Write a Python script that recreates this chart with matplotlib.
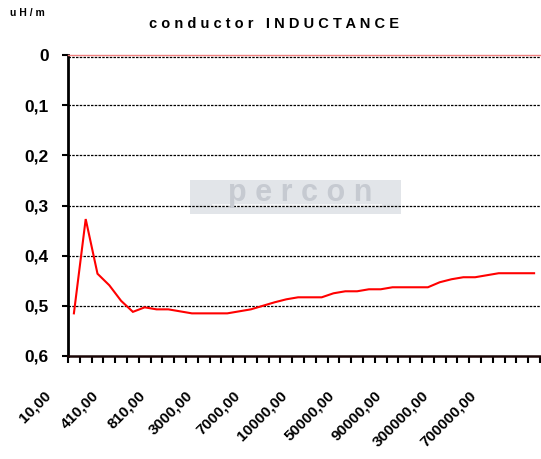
import matplotlib
matplotlib.use('Agg')
import matplotlib.pyplot as plt
from matplotlib.transforms import ScaledTranslation
from matplotlib.patches import Rectangle

plt.rcParams['font.family'] = ['Liberation Sans', 'DejaVu Sans']

# ---- data ----
values = [0.515, 0.327, 0.436, 0.459, 0.490, 0.512, 0.503, 0.507, 0.507, 0.511,
          0.515, 0.515, 0.515, 0.515, 0.511, 0.507, 0.500, 0.493, 0.487, 0.483,
          0.483, 0.483, 0.475, 0.471, 0.471, 0.467, 0.467, 0.463, 0.463, 0.463,
          0.463, 0.453, 0.447, 0.443, 0.443, 0.439, 0.435, 0.435, 0.435, 0.435]
shown_labels = ['10,00', '410,00', '810,00', '3000,00', '7000,00', '10000,00',
                '50000,00', '90000,00', '300000,00', '700000,00']
label_every = 4
yticks = [0, 0.1, 0.2, 0.3, 0.4, 0.5, 0.6]
ylabels = ['0', '0,1', '0,2', '0,3', '0,4', '0,5', '0,6']

W, H = 541, 459
fig = plt.figure(figsize=(W / 100, H / 100), dpi=100)
ax = fig.add_axes([68 / W, 1 - 356 / H, 472 / W, 301 / H])

n = len(values)
xs = list(range(n))
ax.plot(xs, values, color='#ff0000', lw=1.5, zorder=3, solid_joinstyle='miter')
ax.set_xlim(-0.5, n - 0.5)
ax.set_ylim(0.6, 0)

# gridlines (dashed); the top one sits just under the pinkish top border
grid_trans = ax.get_yaxis_transform() + ScaledTranslation(0, -1.5 / 100, fig.dpi_scale_trans)
ax.plot([0, 1], [0, 0], transform=grid_trans, color='black', lw=0.9, ls=(0, (2, 1)),
        zorder=1, clip_on=False)
for y in yticks[1:-1]:
    ax.axhline(y, color='black', lw=0.9, ls=(0, (2, 1)), zorder=1)

# watermark
ax.add_patch(Rectangle((190 / W, 1 - 214 / H), 211 / W, 34 / H, transform=fig.transFigure,
                       facecolor='#e2e5e9', edgecolor='none', zorder=0.5, clip_on=False))
ax.add_patch(Rectangle((212 / W, 1 - 207 / H), 170 / W, 3 / H, transform=fig.transFigure,
                       facecolor='#f3f4f6', edgecolor='none', zorder=0.6, clip_on=False))
fig.text(300 / W, 1 - 193 / H, 'p e r c o n', ha='center', va='center', fontsize=22,
         fontweight='bold', color='#c6cad1', zorder=0.7)

# y axis
ax.set_yticks(yticks)
ax.set_yticklabels(ylabels, fontsize=12.5, fontweight='bold')
ax.tick_params(axis='y', length=4, width=1.5, pad=10, color='black')

# x axis: marks at category boundaries, labels every 4th category
ax.set_xticks([i - 0.5 for i in range(n + 1)], minor=True)
ax.tick_params(axis='x', which='minor', length=5, width=1.5, color='black', direction='out')
major_pos = list(range(0, n, label_every))[:len(shown_labels)]
ax.set_xticks(major_pos)
ax.set_xticklabels(shown_labels, fontsize=11, fontweight='bold', rotation=45,
                   ha='right', va='center', rotation_mode='anchor')
ax.tick_params(axis='x', which='major', length=0, pad=0)
off = ScaledTranslation(-25 / 100, -37 / 100, fig.dpi_scale_trans)
for lbl in ax.get_xticklabels():
    lbl.set_transform(lbl.get_transform() + off)

ax.spines['right'].set_visible(False)
ax.spines['top'].set_color('#f08080')
ax.spines['top'].set_linewidth(1.0)
ax.spines['left'].set_linewidth(2.0)
ax.spines['left'].set_color('black')
ax.spines['bottom'].set_linewidth(1.8)
ax.spines['bottom'].set_color('#1a0505')

fig.text(274 / W, 1 - 24 / H, 'c o n d u c t o r   I N D U C T A N C E', ha='center',
         va='center', fontsize=10.5, fontweight='bold')
fig.text(10 / W, 1 - 13 / H, 'u H / m', ha='left', va='center', fontsize=7.5,
         fontweight='bold')

fig.savefig('out.png', dpi=100)
